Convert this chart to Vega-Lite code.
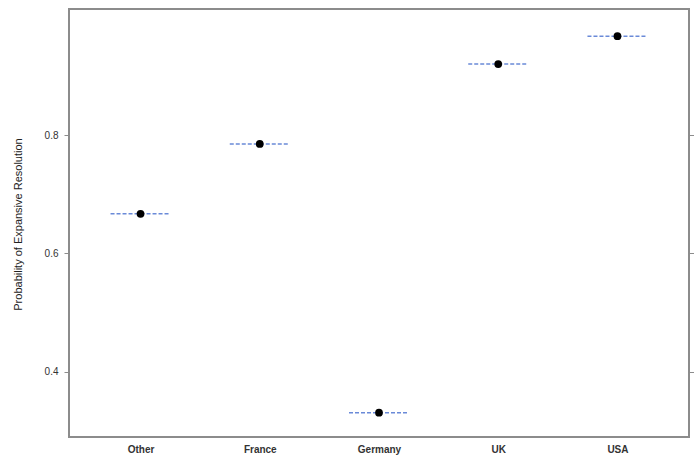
{
  "$schema": "https://vega.github.io/schema/vega-lite/v6.json",
  "width": 620,
  "height": 428,
  "autosize": {"type": "none"},
  "padding": {"left": 69, "top": 9, "right": 5, "bottom": 19},
  "background": "white",
  "config": {
    "view": {"stroke": "#8c8c8c", "strokeWidth": 2},
    "font": "Liberation Sans"
  },
  "data": {
    "values": [
      {"country": "Other", "prob": 0.667},
      {"country": "France", "prob": 0.785},
      {"country": "Germany", "prob": 0.331},
      {"country": "UK", "prob": 0.920},
      {"country": "USA", "prob": 0.967}
    ]
  },
  "encoding": {
    "x": {
      "field": "country",
      "type": "nominal",
      "sort": null,
      "scale": {"type": "point", "padding": 0.6},
      "axis": {
        "title": null,
        "ticks": false,
        "domain": false,
        "labelAngle": 0,
        "labelFontSize": 10,
        "labelFontWeight": "bold",
        "labelColor": "#333333",
        "labelPadding": 7
      }
    }
  },
  "layer": [
    {
      "mark": {"type": "rule", "color": "#6a8ad8", "strokeWidth": 1.5, "strokeDash": [4, 2], "xOffset": -30, "x2Offset": 30},
      "encoding": {
        "x2": {"field": "country"},
        "y": {
          "field": "prob",
          "type": "quantitative",
          "scale": {"domain": [0.29, 1.013], "nice": false, "zero": false},
          "axis": {
            "title": "Probability of Expansive Resolution",
            "values": [0.4, 0.6, 0.8],
            "format": ".1f",
            "grid": false,
            "domain": false,
            "tickSize": 5,
            "tickColor": "#8c8c8c",
            "labelFontSize": 10,
            "labelColor": "#333333",
            "labelPadding": 6,
            "titleFontSize": 11,
            "titleFontWeight": "normal",
            "titleColor": "#222222",
            "titleX": -51,
            "titleY": 215,
            "titleAngle": -90,
            "titleAlign": "center",
            "titleBaseline": "middle"
          }
        }
      }
    },
    {
      "mark": {"type": "point", "opacity": 0},
      "encoding": {
        "y": {
          "field": "prob",
          "type": "quantitative",
          "title": "",
          "scale": {"domain": [0.29, 1.013], "nice": false, "zero": false},
          "axis": {
            "orient": "right",
            "title": "",
            "labels": false,
            "values": [0.4, 0.6, 0.8],
            "grid": false,
            "domain": false,
            "tickSize": 5,
            "tickColor": "#8c8c8c"
          }
        }
      }
    },
    {
      "mark": {"type": "point", "filled": true, "color": "black", "opacity": 1, "size": 60},
      "encoding": {
        "y": {"field": "prob", "type": "quantitative", "axis": null}
      }
    }
  ],
  "resolve": {"axis": {"y": "independent"}}
}
